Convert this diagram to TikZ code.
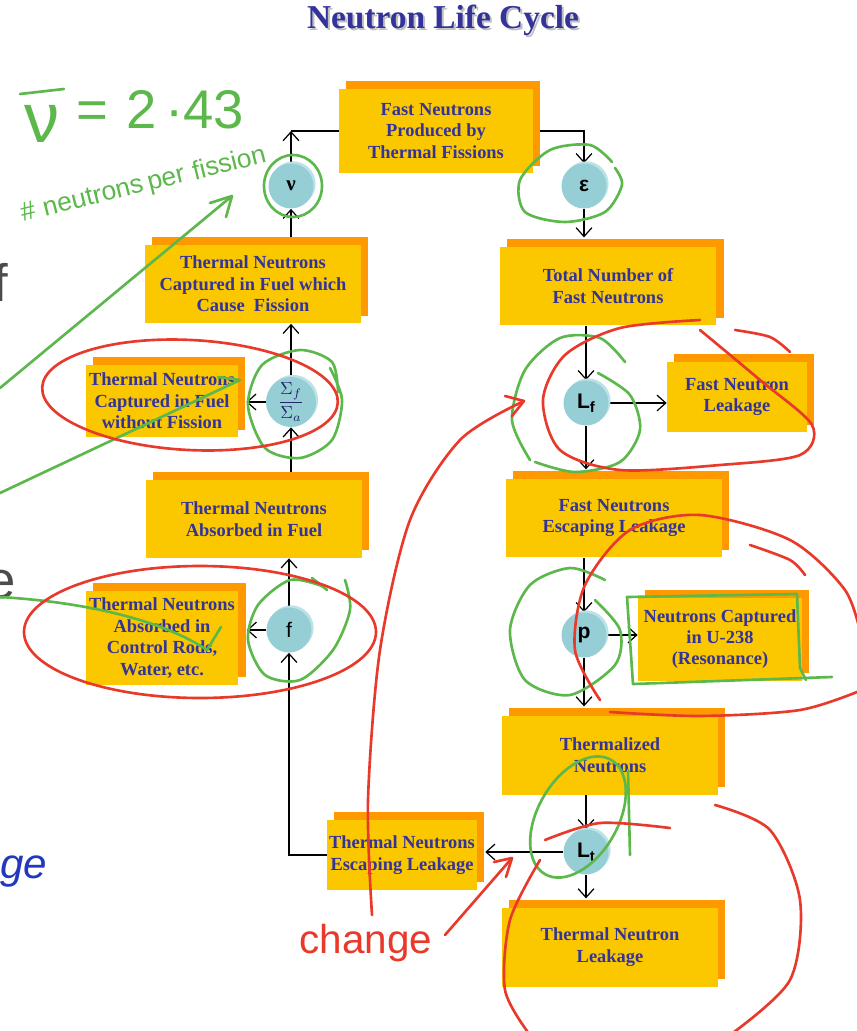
\documentclass[tikz,border=0pt]{standalone}
\usepackage{fontspec}
\setmainfont{Liberation Serif}
\setsansfont{Liberation Sans}
\usetikzlibrary{shadows, arrows.meta, backgrounds}

\definecolor{boxyellow}{HTML}{FBC800}
\definecolor{boxorange}{HTML}{FF9900}
\definecolor{textblue}{HTML}{333399}
\definecolor{cyclefill}{HTML}{96CED6}
\definecolor{cyclehi}{HTML}{BCE2E7}
\definecolor{penred}{HTML}{E8392B}
\definecolor{pengreen}{HTML}{5CB84A}
\definecolor{penblue}{HTML}{2238C0}

\newcommand{\subf}[1]{\raisebox{-0.35ex}{\fontsize{8.5}{8.5}\selectfont #1}}

\tikzset{
  stage/.style={fill=boxyellow, text=textblue, font=\bfseries\fontsize{10.5}{12.2}\selectfont,
    align=center, inner sep=0pt,
    drop shadow={shadow xshift=4pt, shadow yshift=4.3pt, fill=boxorange, opacity=1}},
  factor/.style={circle, fill=cyclefill, minimum size=0.9cm, inner sep=0pt,
    font=\sffamily\bfseries\fontsize{12}{12}\selectfont,
    drop shadow={shadow xshift=1.2pt, shadow yshift=1.2pt, fill=cyclehi, opacity=1}},
  flow/.style={-{Straight Barb[length=5pt,width=9pt]}, line width=0.7pt},
  redpen/.style={draw=penred, line width=1.5pt, line cap=round, line join=round},
  greenpen/.style={draw=pengreen, line width=1.5pt, line cap=round, line join=round},
  hand/.style={font=\sffamily\fontsize{#1}{#1}\selectfont},
  slantword/.style={text=pengreen, hand=15, rotate=14, anchor=base, inner sep=1pt},
}

\begin{document}
\begin{tikzpicture}[x=0.02cm, y=-0.02cm]
\useasboundingbox (0,0) rectangle (856,1031);
\begin{scope}[on background layer]
\fill[white] (0,0) rectangle (856,1031);
\end{scope}

% title
\node[text=black!25, font=\bfseries\fontsize{19}{19}\selectfont] (titleshade) at (445,22) {Neutron Life Cycle};
\node[text=textblue, font=\bfseries\fontsize{19}{19}\selectfont] (title) at (443,20) {Neutron Life Cycle};

% stages
\node[stage, minimum width=3.88cm, minimum height=1.7cm] (fission) at (436,131) {Fast Neutrons\\Produced by\\Thermal Fissions};
\node[stage, minimum width=4.32cm, minimum height=1.58cm] (capfis) at (253,284) {Thermal Neutrons\\Captured in Fuel which\\Cause\ \ Fission};
\node[stage, minimum width=3.04cm, minimum height=1.46cm] (capnofis) at (162,401) {Thermal Neutrons\\Captured in Fuel\\without Fission};
\node[stage, minimum width=4.32cm, minimum height=1.56cm] (absfuel) at (254,519) {Thermal Neutrons\\Absorbed in Fuel};
\node[stage, minimum width=3.06cm, minimum height=1.88cm] (absrods) at (162,638) {Thermal Neutrons\\Absorbed in\\Control Rods,\\Water, etc.};
\node[stage, minimum width=4.34cm, minimum height=1.58cm] (total) at (608,286) {Total Number of\\Fast Neutrons};
\node[stage, minimum width=2.8cm, minimum height=1.42cm] (fastleak) at (737,397) {Fast Neutron\\Leakage};
\node[stage, minimum width=4.32cm, minimum height=1.58cm] (fastesc) at (614,518) {Fast Neutrons\\Escaping Leakage};
\node[stage, minimum width=3.28cm, minimum height=1.66cm] (u238) at (720,639) {Neutrons Captured\\in U-238\\(Resonance)};
\node[stage, minimum width=4.32cm, minimum height=1.58cm] (thermalized) at (610,755) {Thermalized\\Neutrons};
\node[stage, minimum width=3.0cm, minimum height=1.4cm] (thermesc) at (402,855) {Thermal Neutrons\\Escaping Leakage};
\node[stage, minimum width=4.32cm, minimum height=1.58cm] (thermleak) at (610,947) {Thermal Neutron\\Leakage};

% factors
\node[factor, font=\rmfamily\bfseries\fontsize{12}{12}\selectfont] (nu) at (291,186) {ν};
\node[factor] (eps) at (584,186) {ε};
\node[factor, minimum size=1.0cm, text=textblue!70!black] (sig) at (291,402) {\fontsize{10}{10}\selectfont$\displaystyle\frac{\Sigma_f}{\Sigma_a}$};
\node[factor] (lf) at (586,403) {L\subf{f}};
\node[factor, font=\sffamily\fontsize{12}{12}\selectfont] (ff) at (289,630) {f};
\node[factor] (pp) at (584,635) {p};
\node[factor] (lt) at (586,852) {L\subf{t}};

\coordinate (topleft) at (nu |- fission.west);

\begin{scope}[on background layer]
\draw[flow] (nu) -- (topleft);
\draw[line width=0.7pt] (topleft) -- (fission.west);
\draw[flow] (fission.east) -| (eps);
\draw[flow] (capfis.north -| nu) -- (nu);
\draw[flow] (sig) -- (capfis.south -| sig);
\draw[flow] (sig) -- ([xshift=4.5pt]capnofis.east |- sig);
\draw[flow] (absfuel.north -| sig) -- (sig);
\draw[flow] (ff) -- (absfuel.south -| ff);
\draw[flow] (ff) -- ([xshift=4.5pt]absrods.east |- ff);
\draw[flow] (thermesc.west) -| (ff);
\draw[flow] (eps) -- ([yshift=5pt]total.north -| eps);
\draw[flow] (total.south -| lf) -- (lf);
\draw[flow] (lf) -- (fastleak.west |- lf);
\draw[flow] (lf) -- ([yshift=5pt]fastesc.north -| lf);
\draw[flow] (fastesc.south -| pp) -- (pp);
\draw[flow] (pp) -- (u238.west |- pp);
\draw[flow] (pp) -- ([yshift=5pt]thermalized.north -| pp);
\draw[flow] (thermalized.south -| lt) -- (lt);
\draw[flow] (lt) -- ([xshift=4.5pt]thermesc.east |- lt);
\draw[flow] (lt) -- ([yshift=5pt]thermleak.north -| lt);
\end{scope}

% text of the slide behind
\node[text=black!70, hand=30, anchor=east] (edgef) at (14,282) {f};
\node[text=black!70, hand=30, anchor=east] (edgee) at (22,585) {e};
\node[text=penblue, font=\sffamily\itshape\fontsize{24}{24}\selectfont, anchor=west] (edgege) at (-6,872) {ge};

% green notes
\node[text=pengreen, hand=40] (nusym) at (42,124) {ν};
\draw[greenpen] (20,94) -- (64,89);
\node[text=pengreen, hand=31, anchor=west] (nuvalue) at (70,110) {=\,\,2\,·43};
\node[slantword] (wordhash) at (30,220) {\#};
\node[slantword] (wordneutrons) at (95,204) {neutrons};
\node[slantword] (wordper) at (168,186) {per};
\node[slantword] (wordfission) at (231,171) {fission};
\draw[greenpen] (0,388) -- (232,196);
\draw[greenpen] (210,203) -- (232,196) -- (226,217);
\draw[greenpen] (0,493) -- (240,380) -- (218,377);
\draw[greenpen] (0,597) .. controls (100,603) and (170,625) .. (207,650) -- (221,627);
\draw[greenpen] (293,186) ellipse [x radius=29, y radius=31];
\draw[greenpen] plot[smooth] coordinates {(612,162) (590,145) (550,150) (520,180) (525,212) (565,222) (605,212) (622,185) (615,168)};
\draw[greenpen] plot[smooth] coordinates {(338,392) (332,362) (300,350) (262,365) (248,405) (265,448) (300,458) (332,440) (342,400) (330,368)};
\draw[greenpen] plot[smooth] coordinates {(322,586) (290,580) (258,605) (248,640) (265,675) (300,680) (333,650) (350,610) (345,580)};
\draw[greenpen] (312,578) -- (327,590);
\draw[greenpen] plot[smooth] coordinates {(625,362) (600,338) (560,338) (525,370) (512,420) (530,460)};
\draw[greenpen] plot[smooth] coordinates {(598,373) (630,395) (640,430) (620,462) (575,472) (535,462)};
\draw[greenpen] plot[smooth] coordinates {(595,600) (620,630) (615,665) (570,695) (525,680) (510,630) (530,585) (570,568) (605,580)};
\draw[greenpen] (633,684) -- (627,597) -- (797,594) -- (800,668) -- (806,680);
\draw[greenpen] (633,684) -- (832,677);
\draw[greenpen, rotate around={-30:(578,817)}] (578,817) ellipse [x radius=40, y radius=66];
\draw[greenpen] (628,770) -- (630,855);

% red notes
\draw[redpen, rotate around={-3:(190,395)}] (190,395) ellipse [x radius=148, y radius=55];
\draw[redpen] (200,632) ellipse [x radius=176, y radius=66];
\draw[redpen] plot[smooth] coordinates {(700,330) (760,380) (812,425) (800,455) (720,465) (620,470) (560,450) (543,400) (565,355) (620,328) (700,320)};
\draw[redpen] plot[smooth] coordinates {(735,330) (770,337) (790,352)};
\draw[redpen] plot[smooth] coordinates {(600,700) (575,650) (585,585) (630,530) (700,515) (790,540) (845,590) (862,640)};
\draw[redpen] plot[smooth] coordinates {(862,690) (800,710) (700,716) (610,712)};
\draw[redpen] plot[smooth] coordinates {(750,545) (790,560) (805,575)};
\draw[redpen] plot[smooth] coordinates {(545,840) (600,823) (670,828)};
\draw[redpen] plot[smooth] coordinates {(715,805) (770,830) (800,900) (790,980) (730,1035)};
\draw[redpen] plot[smooth] coordinates {(540,860) (510,920) (505,990) (530,1035)};
\draw[redpen] plot[smooth] coordinates {(372,915) (368,800) (380,650) (410,520) (460,440) (522,402)};
\draw[redpen] (505,396) -- (524,401) -- (512,416);
\node[text=penred, hand=23] (change) at (366,943) {change};
\draw[redpen] (445,935) -- (512,858);
\draw[redpen] (494,862) -- (512,858) -- (506,877);
\end{tikzpicture}
\end{document}
